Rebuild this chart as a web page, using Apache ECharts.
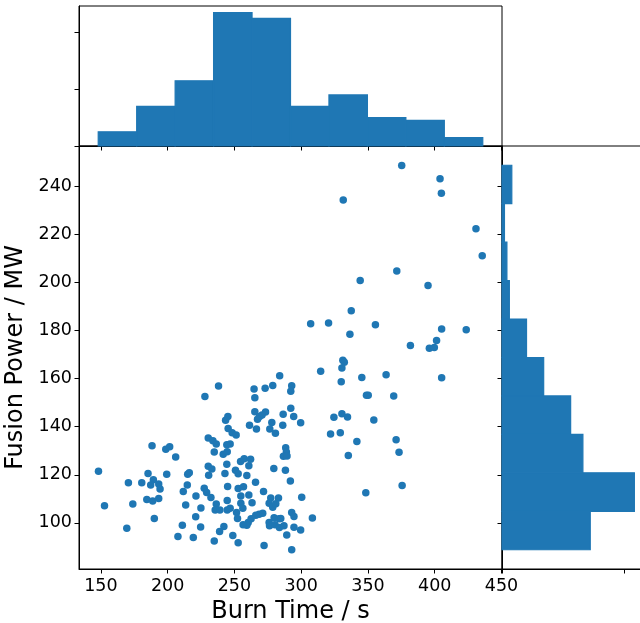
<!DOCTYPE html>
<html><head><meta charset="utf-8">
<script src="https://cdn.jsdelivr.net/npm/echarts@6/dist/echarts.min.js"></script>
<style>html,body{margin:0;padding:0;background:#fff}#c{width:640px;height:623px}</style>
</head><body><div id="c"></div>
<script>
// Scatter data: burn time (s) and fusion power (MW)
const burnTime = [
375.3,404.0,405.0,331.5,430.9,435.6,371.6,344.2,395.0,337.5,
307.1,320.5,355.6,336.5,405.2,423.6,381.8,401.4,396.0,399.7,
331.2,332.3,330.5,314.6,345.4,363.6,405.2,330.0,348.9,350.2,
369.3,299.6,324.5,330.5,334.7,354.4,322.0,329.3,341.7,371.1,
373.3,335.3,375.6,348.4,300.4,308.4,299.6,
292.9,292.2,292.2,294.4,291.9,292.9,294.6,294.6,292.9,
283.9,264.7,273.0,278.7,265.3,265.3,273.3,268.8,270.7,267.3,
286.5,278.0,261.3,266.5,276.5,280.7,286.2,248.3,251.3,246.8,
288.4,288.9,286.7,289.4,254.6,257.3,262.1,260.8,279.5,288.2,
250.8,252.8,259.3,265.8,252.8,256.8,271.8,254.8,260.8,277.2,
276.0,278.7,283.0,281.0,254.8,256.3,263.2,246.8,251.6,252.3,
268.5,271.2,266.0,276.0,276.3,279.7,283.4,284.7,280.4,283.7,
287.1,262.5,260.3,259.3,256.5,248.8,252.8,289.2,272.2,
238.1,227.9,243.4,245.1,245.3,230.4,233.9,236.4,244.3,234.9,
241.6,244.6,188.3,198.6,201.5,206.0,244.3,230.4,233.1,230.7,
215.0,216.2,214.7,242.9,244.9,185.3,189.3,199.3,180.6,187.3,
193.3,194.3,211.7,227.4,229.2,232.4,221.2,184.4,188.8,193.3,
213.5,224.9,236.4,235.6,239.1,244.6,244.6,190.0,221.0,211.0,
224.7,242.1,238.9,207.7,219.2,234.9,
148.2,152.7,169.4,170.6,173.9
];
const fusionPower = [
248.7,243.2,237.1,234.3,222.4,211.1,204.8,200.8,198.8,188.2,
182.8,183.2,182.4,178.5,180.7,180.3,173.8,175.9,172.7,173.0,
167.7,166.8,164.4,163.1,160.5,161.6,160.4,158.7,153.1,153.1,
152.8,141.7,143.9,145.4,144.0,142.8,137.0,137.5,133.9,134.6,
129.4,128.0,115.5,112.5,110.7,102.0,97.0,
157.0,154.8,147.7,144.3,117.4,104.3,102.6,98.2,88.8,
161.2,155.7,156.0,157.2,152.1,146.2,146.1,144.2,144.9,143.1,
145.2,141.8,140.6,139.1,139.1,137.3,140.6,137.5,136.6,132.8,
131.3,129.5,127.7,127.8,125.5,126.7,126.5,123.8,122.6,121.9,
121.9,120.4,119.7,116.9,114.3,115.0,113.0,111.2,111.6,110.3,
108.2,106.5,110.3,107.9,108.2,106.1,108.4,106.1,104.3,101.8,
103.6,104.0,103.2,100.1,98.8,102.1,101.7,101.8,99.2,98.1,
98.8,101.7,100.1,99.0,99.2,94.7,91.7,94.9,90.6,
156.9,152.6,142.7,144.2,139.3,135.3,134.2,132.8,132.5,129.5,
128.5,129.6,132.1,130.6,131.7,127.4,124.4,123.6,122.4,119.8,
120.2,120.8,115.8,120.5,115.1,120.5,117.9,120.2,116.7,115.8,
116.2,114.1,113.0,114.4,112.6,110.5,111.2,109.7,109.1,110.1,
107.4,106.2,107.8,105.3,105.3,105.3,109.3,101.8,102.5,99.0,
98.3,98.5,96.4,94.3,93.9,92.5,
121.5,107.1,97.8,116.7,107.8
];
// Marginal histograms (bin edges and counts)
const xBinEdges = [148.0,176.8,205.6,234.4,263.2,292.0,320.8,349.6,378.4,407.2,436.0];
const xBinCounts = [5,14,23,47,45,14,18,10,9,3];
const yBinEdges = [88.8,104.8,120.8,136.8,152.8,168.8,184.8,200.8,216.8,232.8,248.8];
const yBinCounts = [36,54,33,28,17,10,3,2,1,4];
// Tick values
const xTicks = [150,200,250,300,350,400,450];
const yTicks = [100,120,140,160,180,200,220,240];
const topHistTicks = [0,20,40];
const rightHistTicks = [0,50];

const BLUE = '#1f77b4';
const FONT = 'DejaVu Sans';
const scatterData = burnTime.map((x, i) => [x, fusionPower[i]]);
const topData = xBinCounts.map((c, i) => [xBinEdges[i], xBinEdges[i + 1], c]);
const rightData = yBinCounts.map((c, i) => [c, yBinEdges[i], yBinEdges[i + 1]]);

const X_MIN = 133.6, X_MAX = 450.4, Y_MIN = 80.8, Y_MAX = 256.8;
const lineStyle = { color: '#000', width: 1 };
function axisBase(extra) {
  return Object.assign({
    type: 'value',
    axisLine: { show: true, lineStyle },
    splitLine: { show: false },
  }, extra);
}
function gridBox(left, top, width, height) {
  return { left, top, width, height, containLabel: false, outerBoundsMode: 'none',
    show: true, borderColor: '#000', borderWidth: 1, backgroundColor: 'transparent' };
}

const chart = echarts.init(document.getElementById('c'), null, { renderer: 'canvas' });
chart.setOption({
  animation: false,
  backgroundColor: '#fff',
  grid: [
    gridBox(79, 146, 423, 423),
    gridBox(79, 6, 423, 140),
    gridBox(502, 146, 139, 423)
  ],
  xAxis: [
    axisBase({ gridIndex: 0, min: X_MIN, max: X_MAX,
      axisTick: { show: true, length: 4.5, customValues: xTicks, lineStyle },
      axisLabel: { show: true, customValues: xTicks, fontSize: 17.5, fontFamily: FONT, color: '#000', margin: 8 },
      name: 'Burn Time / s', nameLocation: 'middle', nameGap: 27,
      nameTextStyle: { fontSize: 24, fontFamily: FONT, color: '#000' } }),
    axisBase({ gridIndex: 1, min: X_MIN, max: X_MAX,
      axisTick: { show: true, length: 4.5, customValues: xTicks, lineStyle },
      axisLabel: { show: false } }),
    axisBase({ gridIndex: 2, min: 0, max: 56.7,
      axisTick: { show: true, length: 4.5, customValues: rightHistTicks, lineStyle },
      axisLabel: { show: false } })
  ],
  yAxis: [
    axisBase({ gridIndex: 0, min: Y_MIN, max: Y_MAX,
      axisTick: { show: true, length: 4.5, customValues: yTicks, lineStyle },
      axisLabel: { show: true, customValues: yTicks, fontSize: 17.5, fontFamily: FONT, color: '#000', margin: 7 },
      name: 'Fusion Power / MW', nameLocation: 'middle', nameGap: 41, nameRotate: 90,
      nameTextStyle: { fontSize: 24, fontFamily: FONT, color: '#000' } }),
    axisBase({ gridIndex: 1, min: 0, max: 49.35,
      axisTick: { show: true, length: 4.5, customValues: topHistTicks, lineStyle },
      axisLabel: { show: false } }),
    axisBase({ gridIndex: 2, min: Y_MIN, max: Y_MAX,
      axisTick: { show: true, length: 4.5, customValues: yTicks, lineStyle },
      axisLabel: { show: false } })
  ],
  series: [
    { type: 'scatter', xAxisIndex: 0, yAxisIndex: 0, data: scatterData,
      symbolSize: 7.5, itemStyle: { color: BLUE, opacity: 1 } },
    { type: 'custom', xAxisIndex: 1, yAxisIndex: 1, data: topData,
      encode: { x: [0, 1], y: 2 },
      renderItem: function (params, api) {
        const p0 = api.coord([api.value(0), api.value(2)]);
        const p1 = api.coord([api.value(1), 0]);
        return { type: 'rect', shape: { x: p0[0], y: p0[1], width: p1[0] - p0[0], height: p1[1] - p0[1] },
          style: { fill: BLUE, stroke: BLUE, lineWidth: 1.2 } };
      } },
    { type: 'custom', xAxisIndex: 2, yAxisIndex: 2, data: rightData,
      encode: { x: 0, y: [1, 2] },
      renderItem: function (params, api) {
        const p0 = api.coord([0, api.value(2)]);
        const p1 = api.coord([api.value(0), api.value(1)]);
        return { type: 'rect', shape: { x: p0[0], y: p0[1], width: p1[0] - p0[0], height: p1[1] - p0[1] },
          style: { fill: BLUE, stroke: BLUE, lineWidth: 1.2 } };
      } }
  ]
});
</script></body></html>
